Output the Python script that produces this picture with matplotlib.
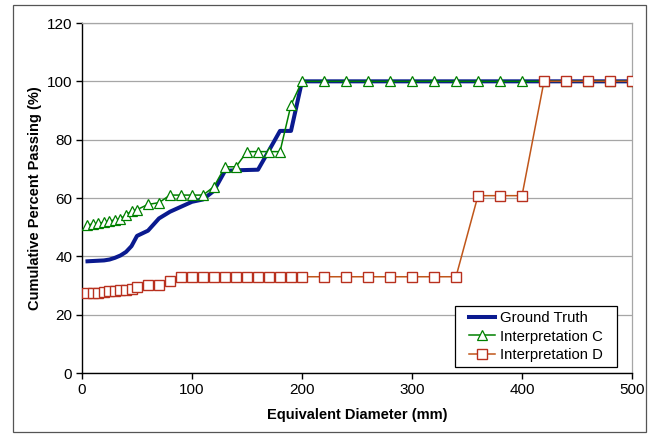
import numpy as np
import matplotlib.pyplot as plt
from matplotlib.patches import Rectangle

# shared size grid (mm)
diam = [5, 10, 15, 20, 25, 30, 35, 40, 45, 50,
        60, 70, 80, 90, 100, 110, 120, 130, 140, 150, 160, 170, 180, 190, 200,
        220, 240, 260, 280, 300, 320, 340, 360, 380, 400, 420, 440, 460, 480, 500]

ground_truth = [38.3, 38.4, 38.5, 38.6, 38.9, 39.5, 40.3, 41.5, 43.5, 47.0,
                48.8, 53.0, 55.3, 57.0, 58.7, 59.5, 62.5, 69.3, 69.5, 69.6,
                69.7, 76.3, 83.0, 83.0, 100,
                100, 100, 100, 100, 100, 100, 100, 100, 100, 100, 100, 100, 100, 100, 100]

interp_c = [50.7, 51.1, 51.3, 51.7, 52.1, 52.5, 52.9, 54.2, 55.5, 56.0,
            57.8, 58.4, 61.0, 61.0, 61.0, 61.0, 63.9, 70.7, 70.7, 75.9,
            75.9, 75.9, 75.9, 91.9, 100,
            100, 100, 100, 100, 100, 100, 100, 100, 100, 100, 100, 100, 100, 100, 100]

interp_d = [27.3, 27.4, 27.6, 27.8, 28.0, 28.2, 28.4, 28.6, 28.9, 29.6,
            30.2, 30.2, 31.5, 33.0, 33.0, 33.0, 33.0, 33.0, 33.0, 33.0,
            33.0, 33.0, 33.0, 33.0, 33.0,
            33.0, 33.0, 33.0, 33.0, 33.0, 33.0, 33.0, 60.8, 60.8, 60.8,
            100, 100, 100, 100, 100]

plt.rcParams["font.family"] = ["Liberation Sans", "DejaVu Sans"]

fig = plt.figure(figsize=(6.54, 4.36), dpi=100)
ax = fig.add_axes([82 / 654, 1 - 373 / 436, 550 / 654, 350 / 436])

# chart area border
fig.patches.append(Rectangle((13 / 654, 4 / 436), 633 / 654, 427 / 436,
                             transform=fig.transFigure, fill=False,
                             edgecolor="#555555", linewidth=0.9))

ax.plot(diam, ground_truth, color="#0a1a8f", linewidth=2.9,
        label="Ground Truth", zorder=3)
ax.plot(diam, interp_c, color="#008000", linewidth=1.1, marker="^",
        markersize=7, markerfacecolor="white", markeredgecolor="#008000",
        markeredgewidth=0.9, label="Interpretation C", zorder=4)
ax.plot(diam, interp_d, color="#c0561a", linewidth=1.1, marker="s",
        markersize=7.5, markerfacecolor="white", markeredgecolor="#b8301e",
        markeredgewidth=1.0, label="Interpretation D", zorder=5)

ax.set_xlim(0, 500)
ax.set_ylim(0, 120)
ax.set_xticks(range(0, 501, 100))
ax.set_yticks(range(0, 121, 20))
ax.yaxis.grid(True, color="#a6a6a6", linewidth=0.9)
ax.set_axisbelow(True)

for side in ["top", "right"]:
    ax.spines[side].set_color("#a6a6a6")
    ax.spines[side].set_linewidth(0.9)
for side in ["left", "bottom"]:
    ax.spines[side].set_color("black")
    ax.spines[side].set_linewidth(1.0)

ax.tick_params(direction="out", length=4, width=1.0, labelsize=11,
               colors="black", pad=3)
ax.set_xlabel("Equivalent Diameter (mm)", fontsize=10.5, fontweight="bold",
              labelpad=8)
ax.set_ylabel("Cumulative Percent Passing (%)", fontsize=10.5,
              fontweight="bold", labelpad=3.5)

# legend box drawn separately so the padding matches the original
box_w, box_h = 162 / 550, 61 / 350
box_cx, box_cy = 536 / 550 - 82 / 550, (373 - 336.5) / 350
box_cx = (536 - 82) / 550
ax.add_patch(Rectangle((box_cx - box_w / 2, box_cy - box_h / 2), box_w, box_h,
                       transform=ax.transAxes, facecolor="white",
                       edgecolor="black", linewidth=0.9, zorder=6))
leg = ax.legend(loc="center", bbox_to_anchor=(box_cx, box_cy),
                fontsize=10.7, frameon=False, borderpad=0,
                labelspacing=0.3, handlelength=1.75, handletextpad=0.3,
                borderaxespad=0)
leg.set_zorder(7)

fig.savefig("out.png", dpi=100)
